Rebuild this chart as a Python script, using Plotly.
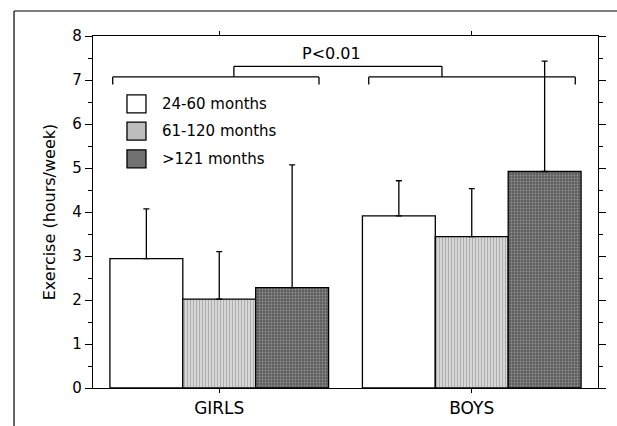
import plotly.graph_objects as go

categories = ["GIRLS", "BOYS"]
series_names = ["24-60 months", "61-120 months", ">121 months"]
means = {
    "24-60 months": [2.94, 3.91],
    "61-120 months": [2.02, 3.44],
    ">121 months": [2.28, 4.92],
}
errors_up = {
    "24-60 months": [1.13, 0.80],
    "61-120 months": [1.08, 1.09],
    ">121 months": [2.79, 2.51],
}
y_ticks = [0, 1, 2, 3, 4, 5, 6, 7, 8]
p_label = "P<0.01"
# significance brackets (x in category units, y in hours/week)
left_bracket_x = [-0.422, 0.395]
right_bracket_x = [0.592, 1.410]
bracket_y = 7.07
bracket_drop = 6.9
connector_x = [0.058, 0.882]
connector_y = 7.31

FONT = "DejaVu Sans, Liberation Sans, Arial, sans-serif"

styles = {
    "24-60 months": dict(color="white", swatch="white"),
    "61-120 months": dict(color="white", swatch="#bdbdbd",
                          pattern=dict(shape="|", fgcolor="#7a7a7a", bgcolor="#e2e2e2", size=3, solidity=0.5)),
    ">121 months": dict(color="#6e6e6e", swatch="#717171",
                        pattern=dict(shape=".", fgcolor="#c8c8c8", bgcolor="#5e5e5e", size=3, solidity=0.3)),
}

fig = go.Figure()
for name in series_names:
    st = styles[name]
    marker = dict(color=st["color"], line=dict(color="black", width=1.3))
    if "pattern" in st:
        marker["pattern"] = st["pattern"]
    fig.add_trace(go.Bar(
        x=[0, 1], y=means[name], name=name, marker=marker, showlegend=False,
        error_y=dict(type="data", symmetric=False, array=errors_up[name],
                     arrayminus=[0, 0], color="black", thickness=1.3, width=3),
    ))

line_style = dict(color="black", width=1.3)
for xs in (left_bracket_x, right_bracket_x):
    fig.add_shape(type="line", x0=xs[0], x1=xs[1], y0=bracket_y, y1=bracket_y, line=line_style)
    for xv in xs:
        fig.add_shape(type="line", x0=xv, x1=xv, y0=bracket_drop, y1=bracket_y, line=line_style)
fig.add_shape(type="line", x0=connector_x[0], x1=connector_x[1], y0=connector_y, y1=connector_y, line=line_style)
for xv in connector_x:
    fig.add_shape(type="line", x0=xv, x1=xv, y0=bracket_y, y1=connector_y, line=line_style)

fig.add_annotation(x=0.445, y=7.6, text=p_label, showarrow=False,
                   font=dict(size=16, color="black", family=FONT))

# manual legend (paper coordinates)
legend_rows_y = [0.807, 0.730, 0.651]
box_half_h = 0.0256
for name, yc in zip(series_names, legend_rows_y):
    fig.add_shape(type="rect", xref="paper", yref="paper", x0=0.0673, x1=0.1049,
                  y0=yc - box_half_h, y1=yc + box_half_h,
                  fillcolor=styles[name]["swatch"], line=dict(color="black", width=1.3))
    fig.add_annotation(xref="paper", yref="paper", x=0.1327, y=yc, text=name,
                       xanchor="left", yanchor="middle", showarrow=False,
                       font=dict(size=15, color="black", family=FONT))

# outer frame lines (figure border)
fig.add_shape(type="line", xref="paper", yref="paper", x0=-0.1564, x1=1.1, y0=1.071, y1=1.071,
              line=dict(color="black", width=1.2))
fig.add_shape(type="line", xref="paper", yref="paper", x0=-0.1564, x1=-0.1564, y0=1.071, y1=-0.2,
              line=dict(color="black", width=1.2))

fig.update_layout(
    width=617, height=426,
    margin=dict(l=93, r=19, t=36, b=38, autoexpand=False),
    paper_bgcolor="white", plot_bgcolor="white",
    barmode="group", bargap=0.134, bargroupgap=0,
    font=dict(family=FONT, color="black", size=15),
    showlegend=False,
    xaxis=dict(range=[-0.5, 1.5], tickvals=[0, 1], ticktext=categories,
               showline=True, linecolor="black", linewidth=1.3, mirror="allticks",
               ticks="outside", ticklen=4, tickcolor="black", showgrid=False,
               zeroline=False, tickfont=dict(size=17), automargin=False),
    yaxis=dict(range=[0, 8], tickvals=y_ticks, showline=True, linecolor="black",
               linewidth=1.3, mirror="allticks", ticks="outside", ticklen=7,
               tickcolor="black", showgrid=False, zeroline=False, automargin=False,
               minor=dict(dtick=0.5, ticks="outside", ticklen=4, tickcolor="black"),
               title=dict(text="Exercise (hours/week)", font=dict(size=16), standoff=12),
               tickfont=dict(size=15)),
)

fig.write_html("out.html", post_script="document.body.style.margin='0';",
               config={"displayModeBar": False})
